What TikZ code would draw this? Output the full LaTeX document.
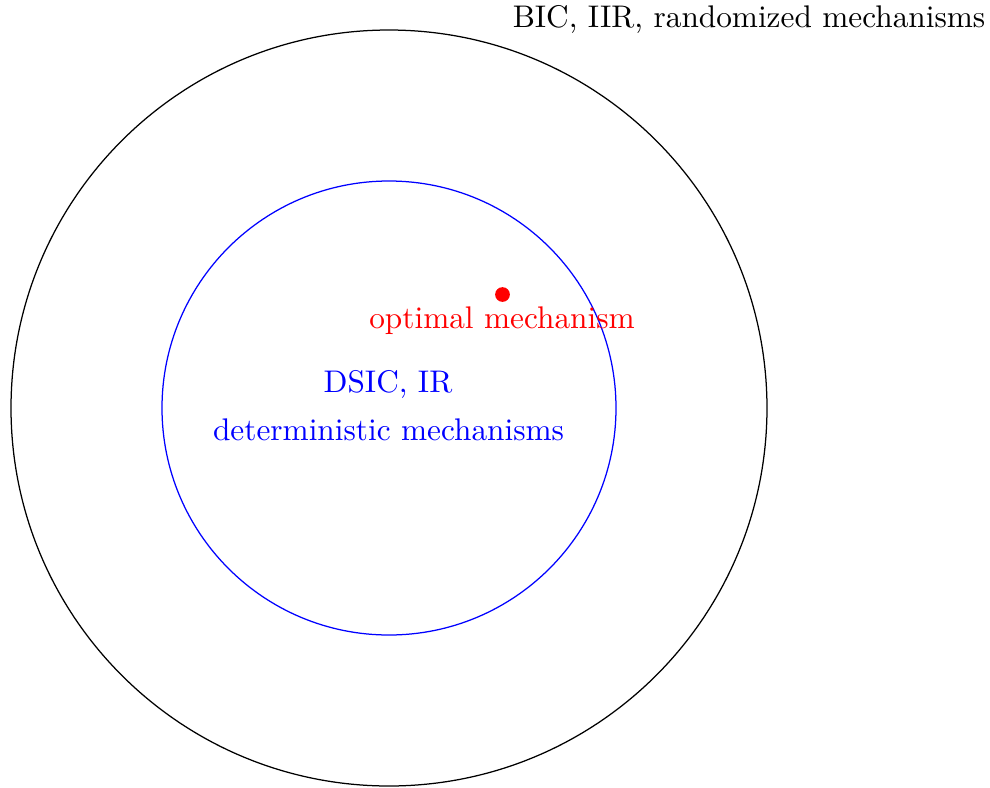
\documentclass[tikz,border=0pt]{standalone}
\begin{document}
\begin{tikzpicture}[x=0.3195pt,y=-0.3195pt,
  lbl/.style={inner sep=0pt,anchor=base}]
\useasboundingbox (0,0) rectangle (990,788);
\coordinate (c) at (389,408);
\draw[black] (c) circle[radius=120.77pt];
\draw[blue] (c) circle[radius=72.53pt];
\fill[red] (502.5,294.5) circle[radius=2.35pt];
\node[lbl] (title) at (749,27) {BIC, IIR, randomized mechanisms};
\node[lbl,text=red] (opt) at (502,328) {optimal mechanism};
\node[lbl,text=blue] (dsic) at (388,392) {DSIC, IR};
\node[lbl,text=blue] (det) at (388.5,440) {deterministic mechanisms};
\end{tikzpicture}
\end{document}
